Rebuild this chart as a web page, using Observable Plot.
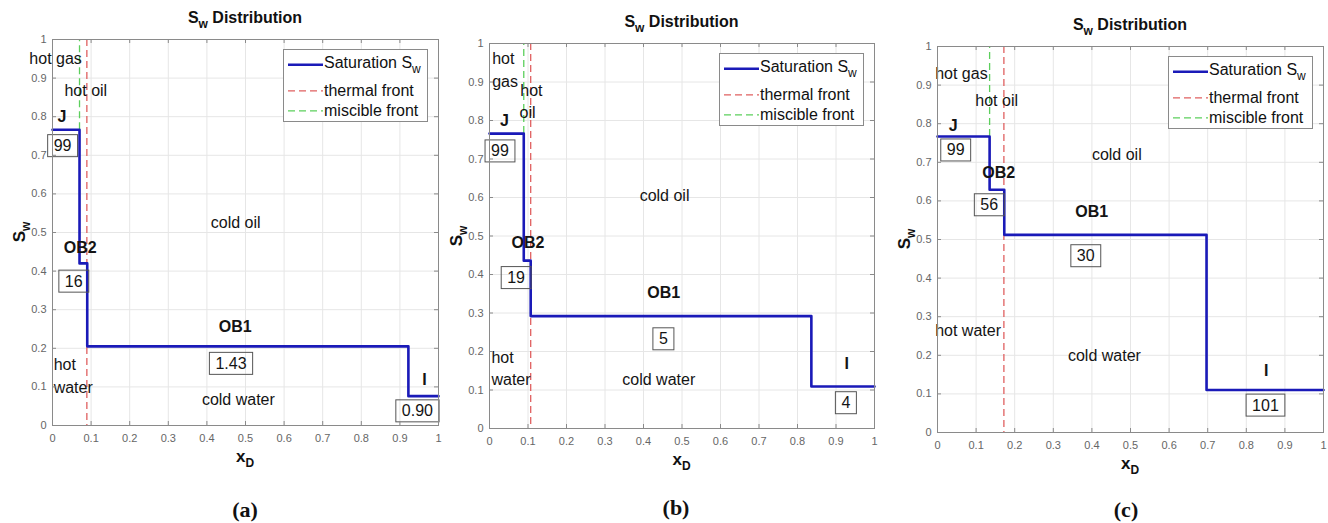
<!DOCTYPE html>
<html>
<head>
<meta charset="utf-8">
<script src="https://cdn.jsdelivr.net/npm/d3@7"></script>
<script src="https://cdn.jsdelivr.net/npm/@observablehq/plot@0.6"></script>
<style>
  body { margin: 0; background: #fff; }
  #chart { position: relative; width: 1328px; height: 523px; background: #fff; overflow: hidden;
           font-family: "Liberation Sans", Arial, sans-serif; color: #111; }
  .abs { position: absolute; white-space: nowrap; line-height: 1; }
  .title { font-weight: bold; font-size: 16px; transform: translate(-50%, -50%); }
  .xlab { font-weight: bold; font-size: 17px; transform: translate(-50%, -50%); }
  .ylab { font-weight: bold; font-size: 17px; transform: translate(-50%, -50%) rotate(-90deg); }
  .sub { font-size: 12px; position: relative; top: 5px; }
  .cap { font-family: "Liberation Serif", "Times New Roman", serif; font-weight: bold; font-size: 22px;
         transform: translate(-50%, -50%); }
  .legend { border: 1px solid #8a8a8a; background: #fff; box-sizing: border-box; width: 145px; height: 73px; }
  .legrow { position: absolute; left: 3px; display: flex; align-items: center; font-size: 16px;
            transform: translateY(-50%); white-space: nowrap; line-height: 1.15; }
</style>
</head>
<body>
<div id="chart"></div>
<script>
// ---------------- data ----------------
const xTicks = [0, 0.1, 0.2, 0.3, 0.4, 0.5, 0.6, 0.7, 0.8, 0.9, 1];
const xTickLabels = ["0", "0.1", "0.2", "0.3", "0.4", "0.5", "0.6", "0.7", "0.8", "0.9", "1"];
const yTicks = [0, 0.1, 0.2, 0.3, 0.4, 0.5, 0.6, 0.7, 0.8, 0.9, 1];
const yTickLabels = ["0", "0.1", "0.2", "0.3", "0.4", "0.5", "0.6", "0.7", "0.8", "0.9", "1"];
const legendNames = ["Saturation S", "thermal front", "miscible front"];
const captions = ["(a)", "(b)", "(c)"];

// panel (a)
const aStepX = [0, 0.07, 0.09, 0.922, 1];
const aStepSw = [0.766, 0.42, 0.205, 0.076, 0.076];
const aThermalFront = [0.089];
const aMiscibleFront = [0.07];
const aRegionText = ["hot gas", "hot oil", "cold oil", "hot", "water", "cold water"];
const aRegionX = [-0.06, 0.031, 0.41, 0.003, 0.003, 0.387];
const aRegionY = [0.951, 0.866, 0.526, 0.158, 0.097, 0.067];
const aWaveText = ["J", "OB2", "OB1", "I"];
const aWaveX = [0.013, 0.029, 0.431, 0.958];
const aWaveY = [0.799, 0.459, 0.255, 0.118];
const aValueText = ["99", "16", "1.43", "0.90"];
const aValueX = [0.003, 0.032, 0.422, 0.905];
const aValueY = [0.724, 0.373, 0.160, 0.037];

// panel (b)
const bStepX = [0, 0.089, 0.107, 0.836, 1];
const bStepSw = [0.766, 0.436, 0.292, 0.109, 0.109];
const bThermalFront = [0.107];
const bMiscibleFront = [0.089];
const bRegionText = ["hot", "gas", "hot", "oil", "cold oil", "hot", "water", "cold water"];
const bRegionX = [0.007, 0.007, 0.08, 0.078, 0.39, 0.005, 0.005, 0.345];
const bRegionY = [0.960, 0.901, 0.876, 0.821, 0.605, 0.183, 0.127, 0.127];
const bWaveText = ["J", "OB2", "OB1", "I"];
const bWaveX = [0.027, 0.057, 0.41, 0.922];
const bWaveY = [0.80, 0.482, 0.352, 0.169];
const bValueText = ["99", "19", "5", "4"];
const bValueX = [0.004, 0.046, 0.44, 0.914];
const bValueY = [0.72, 0.391, 0.232, 0.066];

// panel (c)
const cStepX = [0, 0.135, 0.173, 0.697, 1];
const cStepSw = [0.767, 0.629, 0.512, 0.11, 0.11];
const cThermalFront = [0.172];
const cMiscibleFront = [0.135];
const cRegionText = ["hot gas", "hot oil", "cold oil", "hot water", "cold water"];
const cRegionX = [-0.006, 0.098, 0.40, -0.006, 0.338];
const cRegionY = [0.93, 0.858, 0.72, 0.262, 0.198];
const cWaveText = ["J", "OB2", "OB1", "I"];
const cWaveX = [0.029, 0.116, 0.357, 0.846];
const cWaveY = [0.795, 0.672, 0.571, 0.159];
const cValueText = ["99", "56", "30", "101"];
const cValueX = [0.024, 0.111, 0.361, 0.815];
const cValueY = [0.731, 0.589, 0.457, 0.07];

// ---------------- styles / layout ----------------
const BLUE = "#1a1ab8", RED = "#e06060", GREEN = "#5ccf5c";
const AXIS = "#8a8a8a", GRID = "#e6e6e6", INK = "#141414";
const layouts = [
  { frame: [52, 438, 39, 425], legend: [283, 49], caption: [245, 510] },
  { frame: [489, 874, 43, 428], legend: [719, 53], caption: [676, 508] },
  { frame: [937, 1323, 46, 432], legend: [1168, 56], caption: [1126, 510] }
];
const panels = [
  { stepX: aStepX, stepSw: aStepSw, thermal: aThermalFront, miscible: aMiscibleFront,
    regionText: aRegionText, regionX: aRegionX, regionY: aRegionY,
    waveText: aWaveText, waveX: aWaveX, waveY: aWaveY,
    valueText: aValueText, valueX: aValueX, valueY: aValueY },
  { stepX: bStepX, stepSw: bStepSw, thermal: bThermalFront, miscible: bMiscibleFront,
    regionText: bRegionText, regionX: bRegionX, regionY: bRegionY,
    waveText: bWaveText, waveX: bWaveX, waveY: bWaveY,
    valueText: bValueText, valueX: bValueX, valueY: bValueY },
  { stepX: cStepX, stepSw: cStepSw, thermal: cThermalFront, miscible: cMiscibleFront,
    regionText: cRegionText, regionX: cRegionX, regionY: cRegionY,
    waveText: cWaveText, waveX: cWaveX, waveY: cWaveY,
    valueText: cValueText, valueX: cValueX, valueY: cValueY }
];

const chart = document.getElementById("chart");
function addDiv(cls, html, x, y) {
  const d = document.createElement("div");
  d.className = "abs " + cls;
  d.innerHTML = html;
  d.style.left = x + "px";
  d.style.top = y + "px";
  chart.appendChild(d);
  return d;
}

function addBoxes(svg) {
  const NS = "http://www.w3.org/2000/svg";
  svg.querySelectorAll('g[font-style="normal"] text').forEach(t => {
    const b = t.getBBox();
    const r = document.createElementNS(NS, "rect");
    r.setAttribute("x", b.x - 6);
    r.setAttribute("y", b.y - 2.5);
    r.setAttribute("width", b.width + 12);
    r.setAttribute("height", b.height + 5);
    r.setAttribute("fill", "none");
    r.setAttribute("stroke", "#555");
    r.setAttribute("stroke-width", 1);
    const tr = t.getAttribute("transform");
    if (tr) r.setAttribute("transform", tr);
    t.parentNode.insertBefore(r, t);
  });
}

panels.forEach((d, k) => {
  const L = layouts[k];
  const [fl, fr, ft, fb] = L.frame;
  const H = 480, ML = 50, MR = 5;
  const fw = fr - fl, fh = fb - ft;
  const svg = Plot.plot({
    width: ML + fw + MR, height: H,
    marginLeft: ML, marginRight: MR, marginTop: ft, marginBottom: H - fb,
    x: { domain: [0, 1], ticks: xTicks, tickFormat: v => xTickLabels[xTicks.indexOf(v)],
         tickSize: 0, tickPadding: 9, label: null },
    y: { domain: [0, 1], ticks: yTicks, tickFormat: v => yTickLabels[yTicks.indexOf(v)],
         tickSize: 0, tickPadding: 6, label: null },
    style: { background: "transparent", overflow: "visible", maxWidth: "none",
             fontFamily: "'Liberation Sans', Arial, sans-serif", fontSize: "11px", color: "#666" },
    marks: [
      Plot.ruleX(xTicks, { stroke: GRID }),
      Plot.ruleY(yTicks, { stroke: GRID }),
      // miscible front drawn from the J plateau up to the top
      Plot.ruleX(d.miscible, { y1: d.stepSw.slice(0, 1), y2: yTicks.slice(-1), stroke: GREEN,
                               strokeWidth: 1.3, strokeDasharray: "7,4" }),
      Plot.ruleX(d.thermal, { stroke: RED, strokeWidth: 1.3, strokeDasharray: "7,4" }),
      Plot.line(d.stepX, { x: d.stepX, y: d.stepSw, curve: "step-after", stroke: BLUE, strokeWidth: 2.6 }),
      Plot.text(d.regionText, { x: d.regionX, y: d.regionY, text: d.regionText, textAnchor: "start",
                                fontSize: 16, fill: INK }),
      Plot.text(d.waveText, { x: d.waveX, y: d.waveY, text: d.waveText, textAnchor: "start",
                              fontSize: 16, fontWeight: "bold", fill: INK }),
      Plot.text(d.valueText, { x: d.valueX, y: d.valueY, text: d.valueText, textAnchor: "start",
                               fontSize: 16, fontStyle: "normal", fill: INK }),
      Plot.frame({ stroke: AXIS }),
      Plot.ruleX(xTicks, { stroke: AXIS, insetTop: fh - 4 }),
      Plot.ruleX(xTicks, { stroke: AXIS, insetBottom: fh - 4 }),
      Plot.ruleY(yTicks, { stroke: AXIS, insetRight: fw - 4 }),
      Plot.ruleY(yTicks, { stroke: AXIS, insetLeft: fw - 4 })
    ]
  });
  svg.style.position = "absolute";
  svg.style.left = (fl - ML) + "px";
  svg.style.top = "0px";
  chart.appendChild(svg);
  addBoxes(svg);

  const cx = (fl + fr) / 2, cy = (ft + fb) / 2;
  addDiv("title", 'S<span class="sub">w</span> Distribution', cx, ft - 21);
  addDiv("xlab", 'x<span class="sub">D</span>', cx, fb + 31);
  addDiv("ylab", 'S<span class="sub">w</span>', fl - 33, cy);
  addDiv("cap", captions[k], L.caption[0], L.caption[1]);

  const lg = addDiv("legend", "", L.legend[0], L.legend[1]);
  const rows = [
    { name: legendNames[0] + '<span class="sub">w</span>', color: BLUE, dash: null, w: 2.6, top: 13, ly: 8 },
    { name: legendNames[1], color: RED, dash: "7,4", w: 1.3, top: 41, ly: 6 },
    { name: legendNames[2], color: GREEN, dash: "7,4", w: 1.3, top: 61, ly: 6 }
  ];
  rows.forEach(r => {
    const row = document.createElement("div");
    row.className = "legrow";
    row.style.top = r.top + "px";
    row.innerHTML = `<svg width="37" height="12" style="display:block"><line x1="1" x2="36" y1="${r.ly}" y2="${r.ly}" stroke="${r.color}" stroke-width="${r.w}" ${r.dash ? `stroke-dasharray="${r.dash}"` : ""}/></svg><span>${r.name}</span>`;
    lg.appendChild(row);
  });
});
</script>
</body>
</html>
